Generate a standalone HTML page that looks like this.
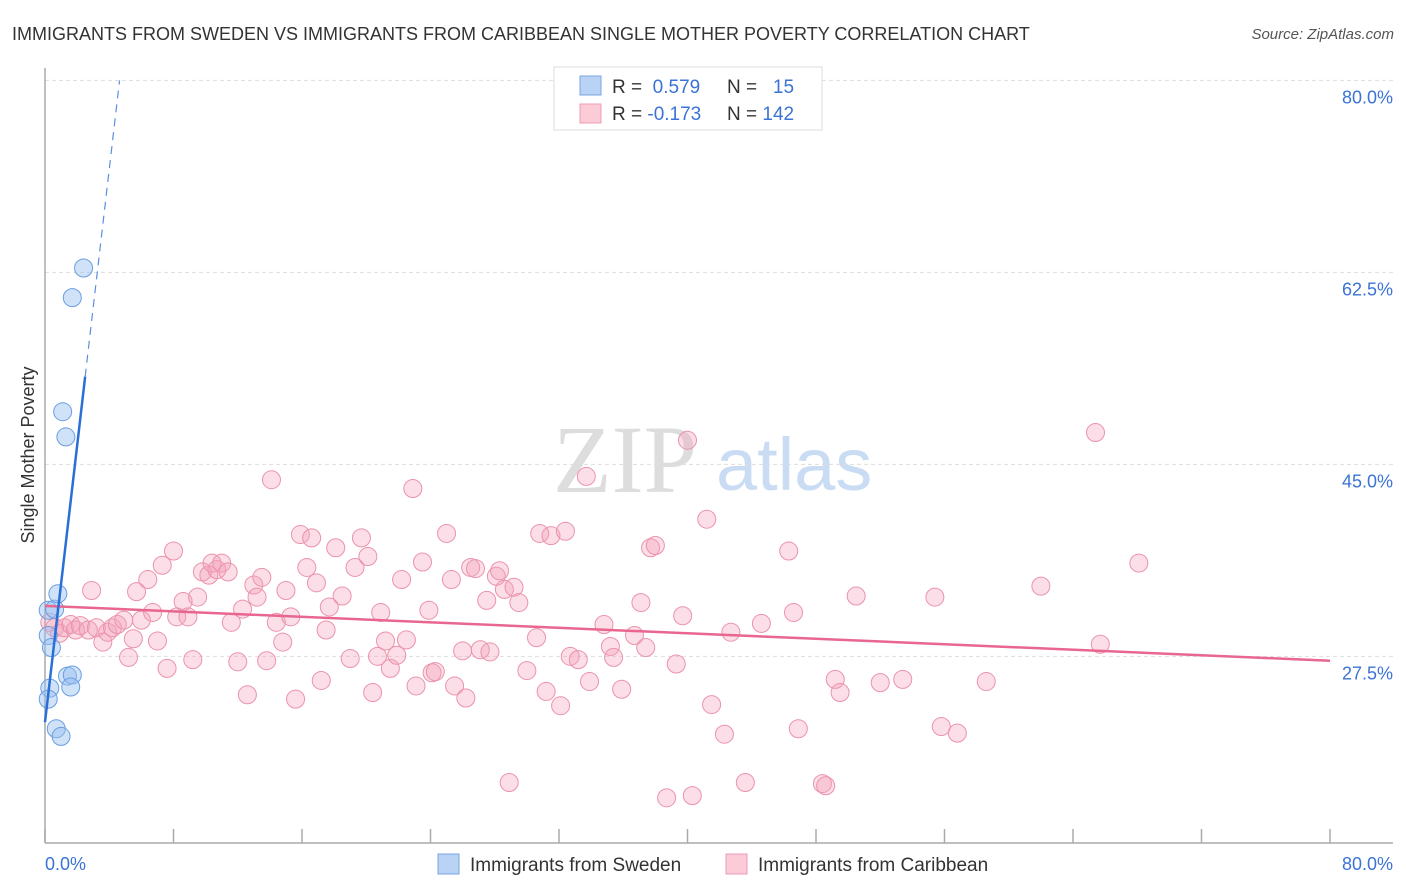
<!DOCTYPE html>
<html><head><meta charset="utf-8"><style>
body{margin:0;background:#fff;font-family:"Liberation Sans",sans-serif}
svg{display:block}
</style></head><body>
<svg id="chart" width="1406" height="892" xmlns="http://www.w3.org/2000/svg">
<text x="12" y="40" font-size="18" fill="#333">IMMIGRANTS FROM SWEDEN VS IMMIGRANTS FROM CARIBBEAN SINGLE MOTHER POVERTY CORRELATION CHART</text>
<text x="1394" y="39" font-size="15" fill="#555" font-style="italic" text-anchor="end">Source: ZipAtlas.com</text>
<g>
<text x="553" y="492" font-size="96" font-family="Liberation Serif,serif" fill="#ddd">ZIP</text>
<text x="716" y="490" font-size="74" fill="#c9dcf3">atlas</text>
</g>
<g id="grid"></g>
<g id="axes"></g>
<g id="marks"></g>
<g>
<rect x="554" y="67" width="268" height="63" fill="#fff" stroke="#ddd"/>
<rect x="580" y="76" width="21" height="19" fill="#b9d3f5" stroke="#7ba6e2"/>
<rect x="580" y="104" width="21" height="19" fill="#fbcbd8" stroke="#ec9db3"/>
<text x="612" y="93" font-size="19" fill="#333">R = <tspan fill="#3b73d6">&#160;0.579</tspan></text>
<text x="727" y="93" font-size="19" fill="#333">N = <tspan fill="#3b73d6">&#160;&#160;15</tspan></text>
<text x="612" y="120" font-size="19" fill="#333">R = <tspan fill="#3b73d6">-0.173</tspan></text>
<text x="727" y="120" font-size="19" fill="#333">N = <tspan fill="#3b73d6">142</tspan></text>
</g>
<g>
<rect x="438" y="854" width="21" height="20" fill="#b9d3f5" stroke="#7ba6e2"/>
<text x="470" y="871" font-size="19" fill="#333">Immigrants from Sweden</text>
<rect x="726" y="854" width="21" height="20" fill="#fbcbd8" stroke="#ec9db3"/>
<text x="758" y="871" font-size="19" fill="#333">Immigrants from Caribbean</text>
</g>
<text transform="translate(34,455) rotate(-90)" font-size="18" fill="#333" text-anchor="middle">Single Mother Poverty</text>
</svg>
<script>
const yTicks=[27.5,45.0,62.5,80.0];
const yTickLabels=["27.5%","45.0%","62.5%","80.0%"];
const xTicks=[0,8,16,24,32,40,48,56,64,72,80];
const xEndLabels=["0.0%","80.0%"];
const swedenX=[0.2,0.6,0.2,0.4,0.8,2.4,1.7,1.1,1.3,1.4,1.7,1.6,0.3,0.2,0.7,1.0];
const swedenY=[31.7,31.8,29.4,28.3,33.2,62.9,60.2,49.8,47.5,25.7,25.8,24.7,24.6,23.6,20.9,20.2];
const caribX=[0.3,0.6,0.9,1.2,1.6,1.9,2.2,2.7,2.9,3.2,3.6,3.9,4.2,4.5,4.9,5.2,5.5,5.7,6.0,6.4,6.7,7.0,7.3,7.6,8.0,8.2,8.6,8.9,9.2,9.5,9.8,10.2,10.4,10.7,11.0,11.4,11.6,12.0,12.3,12.6,13.0,13.2,13.5,13.8,14.1,14.4,14.8,15.0,15.3,15.6,15.9,16.3,16.6,16.9,17.2,17.5,17.7,18.1,18.5,19.0,19.3,19.7,20.1,20.4,20.7,20.9,21.2,21.5,21.9,22.2,22.5,22.9,23.1,23.5,23.9,24.1,24.3,25.0,25.3,25.5,26.0,26.2,26.5,26.8,27.1,27.5,27.7,28.1,28.3,28.6,28.9,29.2,29.5,30.0,30.6,30.8,31.2,31.5,32.1,32.4,32.7,33.2,33.7,33.9,34.8,35.2,35.4,35.9,36.7,37.1,37.4,37.7,38.0,38.7,39.3,39.7,40.0,40.3,41.2,41.5,42.3,42.7,43.6,44.6,46.3,46.6,46.9,48.4,48.6,49.2,49.5,50.5,52.0,53.4,55.4,55.8,56.8,58.6,62.0,65.4,65.7,68.1];
const caribY=[30.6,30.1,29.6,30.1,30.4,29.9,30.3,29.9,33.5,30.1,28.8,29.7,30.1,30.4,30.8,27.4,29.1,33.4,30.8,34.5,31.5,28.9,35.8,26.4,37.1,31.1,32.5,31.1,27.2,32.9,35.2,34.9,36.0,35.4,36.0,35.2,30.6,27.0,31.8,24.0,34.0,32.9,34.7,27.1,43.6,30.6,28.8,33.5,31.1,23.6,38.6,35.6,38.3,34.2,25.3,29.9,32.0,37.4,33.0,27.3,35.6,38.3,36.6,24.2,27.5,31.5,28.9,26.4,27.6,34.5,29.0,42.8,24.8,36.1,31.7,26.0,26.1,38.7,34.5,24.8,28.0,23.7,35.6,35.5,28.1,32.6,27.9,34.8,35.3,33.6,16.0,33.8,32.4,26.2,29.2,38.7,24.3,38.5,23.0,38.9,27.5,27.2,43.9,25.2,30.4,28.4,27.4,24.5,29.4,32.4,28.3,37.4,37.6,14.6,26.8,31.2,47.2,14.8,40.0,23.1,20.4,29.7,16.0,30.5,37.1,31.5,20.9,15.9,15.7,25.4,24.2,33.0,25.1,25.4,32.9,21.1,20.5,25.2,33.9,47.9,28.6,36.0];
const swedenTrend=[21.5,12.6]; // intercept, slope
const caribTrend=[32.1,-0.0625];

const X=v=>45+v*16.0625;
const Y=v=>958-v*10.97;
const NS="http://www.w3.org/2000/svg";
function mk(tag,attrs,parent){const e=document.createElementNS(NS,tag);for(const k in attrs)e.setAttribute(k,attrs[k]);parent.appendChild(e);return e;}
const grid=document.getElementById('grid'),axes=document.getElementById('axes'),marks=document.getElementById('marks');
yTicks.forEach((t,i)=>{
  const l=mk('line',{x1:45,x2:1393,y1:Y(t),y2:Y(t),stroke:'#ddd','stroke-dasharray':'4,3'},grid);
  
  
  const tx=mk('text',{x:1393,y:Y(t)+23,'font-size':18,fill:'#3b73d6','text-anchor':'end'},axes);
  tx.textContent=yTickLabels[i];
  
  
});
const ya=mk('line',{x1:45,x2:45,y1:68,y2:843,stroke:'#aaa','stroke-width':1.5},axes);


const xa=mk('line',{x1:45,x2:1393,y1:843,y2:843,stroke:'#aaa','stroke-width':1.5},axes);


xTicks.forEach(t=>{
  const tk=mk('line',{x1:X(t),x2:X(t),y1:829,y2:843,stroke:'#aaa','stroke-width':1.5},axes);
  
  
});
const xl0=mk('text',{x:45,y:870,'font-size':18,fill:'#3b73d6'},axes);xl0.textContent=xEndLabels[0];


const xl1=mk('text',{x:1393,y:870,'font-size':18,fill:'#3b73d6','text-anchor':'end'},axes);xl1.textContent=xEndLabels[1];


caribX.forEach((x,i)=>{
  const c=mk('circle',{cx:X(x),cy:Y(caribY[i]),r:9,fill:'rgba(244,160,185,0.35)',stroke:'#eb93ab','stroke-width':1},marks);
  
  
});
swedenX.forEach((x,i)=>{
  const c=mk('circle',{cx:X(x),cy:Y(swedenY[i]),r:9,fill:'rgba(150,190,240,0.45)',stroke:'#6a9ee0','stroke-width':1},marks);
  
  
});
const ct=mk('line',{x1:X(0),y1:Y(caribTrend[0]),x2:X(80),y2:Y(caribTrend[0]+caribTrend[1]*80),stroke:'#e8668f','stroke-width':2.5},marks);


const sx1=2.5,sx2=(80-swedenTrend[0])/swedenTrend[1];
const st=mk('line',{x1:X(0),y1:Y(swedenTrend[0]),x2:X(sx1),y2:Y(swedenTrend[0]+swedenTrend[1]*sx1),stroke:'#2a6fd8','stroke-width':2.5},marks);


const sd=mk('line',{x1:X(sx1),y1:Y(swedenTrend[0]+swedenTrend[1]*sx1),x2:X(sx2),y2:Y(80),stroke:'#5a8fe0','stroke-width':1.2,'stroke-dasharray':'8,6'},marks);


</script>
</body></html>
